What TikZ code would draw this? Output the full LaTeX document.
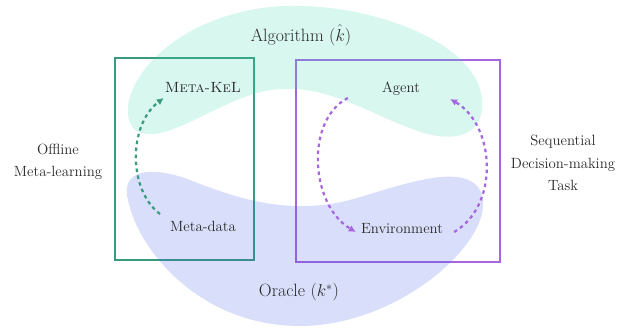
\documentclass[tikz,border=0pt]{standalone}
\usetikzlibrary{arrows.meta,calc}
\definecolor{boxgreen}{RGB}{58,154,126}
\definecolor{boxpurple}{RGB}{165,102,224}
\definecolor{blobgreen}{RGB}{60,215,175}
\definecolor{blobblue}{RGB}{65,90,230}
\definecolor{txt}{RGB}{40,40,40}
\tikzset{
  lbl/.style={text=txt,font=\fontsize{14.8}{22.5}\selectfont,inner sep=0pt,align=center},
  biglbl/.style={text=txt,font=\fontsize{17.8}{22}\selectfont,inner sep=0pt},
  framebox/.style={line width=2pt},
  loop/.style={line width=2.2pt,dash pattern=on 3.5pt off 3.5pt,-{Latex[length=7pt,width=7pt]}},
  blob/.style={fill opacity=0.2,draw=none}
}
\begin{document}
\begin{tikzpicture}[x=1pt,y=-1pt]
\useasboundingbox (0,0) rectangle (622,328);
% frames
\draw[framebox,boxgreen] (115,58) rectangle (254,260);
\draw[framebox,boxpurple] (296,60) rectangle (500,262);
% blobs
\fill[blob,blobgreen] (135,130) .. controls (110,105) and (150,30) .. (250,10)
  .. controls (340,-8) and (478,35) .. (482,100)
  .. controls (485,135) and (455,145) .. (415,130)
  .. controls (365,112) and (330,86) .. (280,89)
  .. controls (225,92) and (165,150) .. (135,130) -- cycle;
\fill[blob,blobblue] (128,200) .. controls (120,170) and (150,165) .. (190,180)
  .. controls (240,200) and (290,215) .. (350,200)
  .. controls (400,186) and (470,158) .. (482,195)
  .. controls (495,240) and (400,326) .. (300,326)
  .. controls (200,326) and (138,250) .. (128,200) -- cycle;
% labels
\node[biglbl] (alg) at (301,35) {Algorithm ($\hat{k}$)};
\node[biglbl] (orc) at (299,292) {Oracle ($k^{*}$)};
\node[lbl] (mk) at (203,87) {\textsc{Meta-KeL}};
\node[lbl] (md) at (203,226) {Meta-data};
\node[lbl] (ag) at (401,89) {Agent};
\node[lbl] (env) at (402,229) {Environment};
\node[lbl] (off) at (58,162) {Offline\\Meta-learning};
\node[lbl] (seq) at (563,163) {Sequential\\Decision-making\\Task};
% loops
\draw[loop,boxgreen] ($(md.west)+(-10,-12)$) .. controls (128,190) and (128,125) .. ($(mk.west)+(-1,11)$);
\draw[loop,boxpurple] ($(ag.west)+(-34,9)$) .. controls (305,120) and (310,205) .. ($(env.west)+(-5,3)$);
\draw[loop,boxpurple] ($(env.east)+(11,3)$) .. controls (500,205) and (495,125) .. ($(ag.east)+(30,10)$);
\end{tikzpicture}
\end{document}
